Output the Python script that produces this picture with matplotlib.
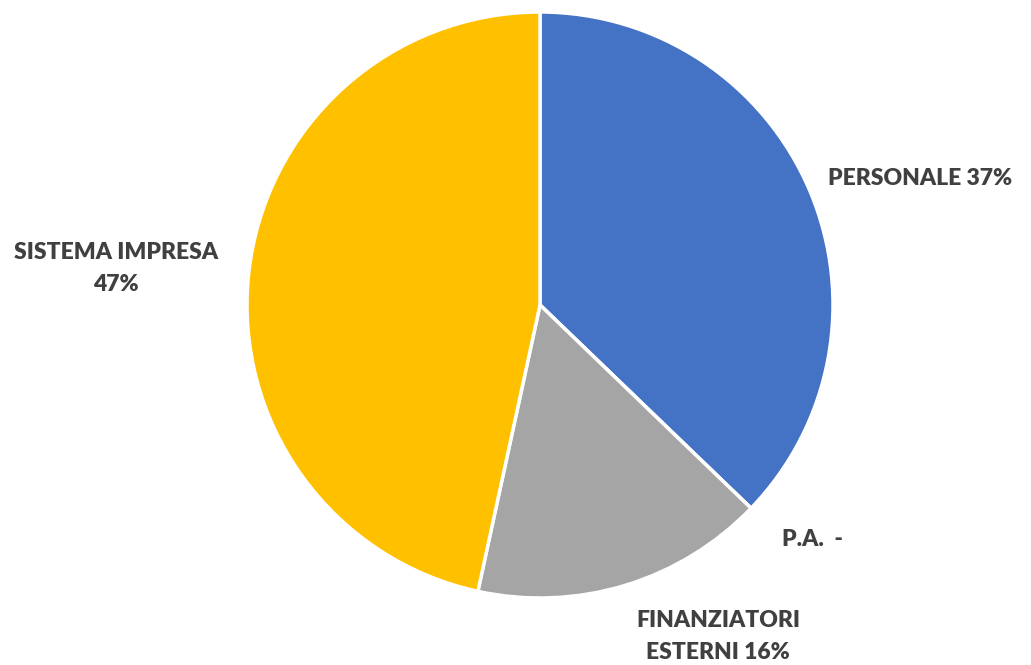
import matplotlib
matplotlib.use("Agg")
import matplotlib.pyplot as plt

# slice data, clockwise from 12 o'clock
labels = ["PERSONALE", "P.A.", "FINANZIATORI\nESTERNI", "SISTEMA IMPRESA\n"]
shares = [37.2, 0.0, 16.2, 46.6]
colors = ["#4472C4", "#ED7D31", "#A5A5A5", "#FFC000"]

plt.rcParams['font.family'] = ['Lato', 'DejaVu Sans']

fig = plt.figure(figsize=(10.31, 6.65), dpi=100)
W, H = 1031, 665
cx, cy, r = 540, 305, 293
ax = fig.add_axes([(cx - r) / W, (H - cy - r) / H, 2 * r / W, 2 * r / H])

ax.pie(shares, colors=colors, startangle=90, counterclock=False, radius=1,
       wedgeprops=dict(edgecolor="white", linewidth=2.5))
ax.set_xlim(-1, 1)
ax.set_ylim(-1, 1)
ax.set_aspect("equal")
ax.axis("off")

def pct(v):
    return f"{round(v)}%" if v > 0 else "-"

# label anchor spots (axes data units, pie radius = 1)
spots = [(1.297, 0.433), (0.93, -0.80), (0.608, -1.13), (-1.447, 0.126)]
texts = [
    f"{labels[0]} {pct(shares[0])}",
    f"{labels[1]}  {pct(shares[1])}",
    f"{labels[2]} {pct(shares[2])}",
    f"{labels[3]}{pct(shares[3])}",
]
for (x, y), t in zip(spots, texts):
    ax.text(x, y, t, ha="center", va="center", fontsize=16.5, fontweight="heavy",
            color="#404040", linespacing=1.65, clip_on=False)

fig.savefig("out.png", dpi=100)
